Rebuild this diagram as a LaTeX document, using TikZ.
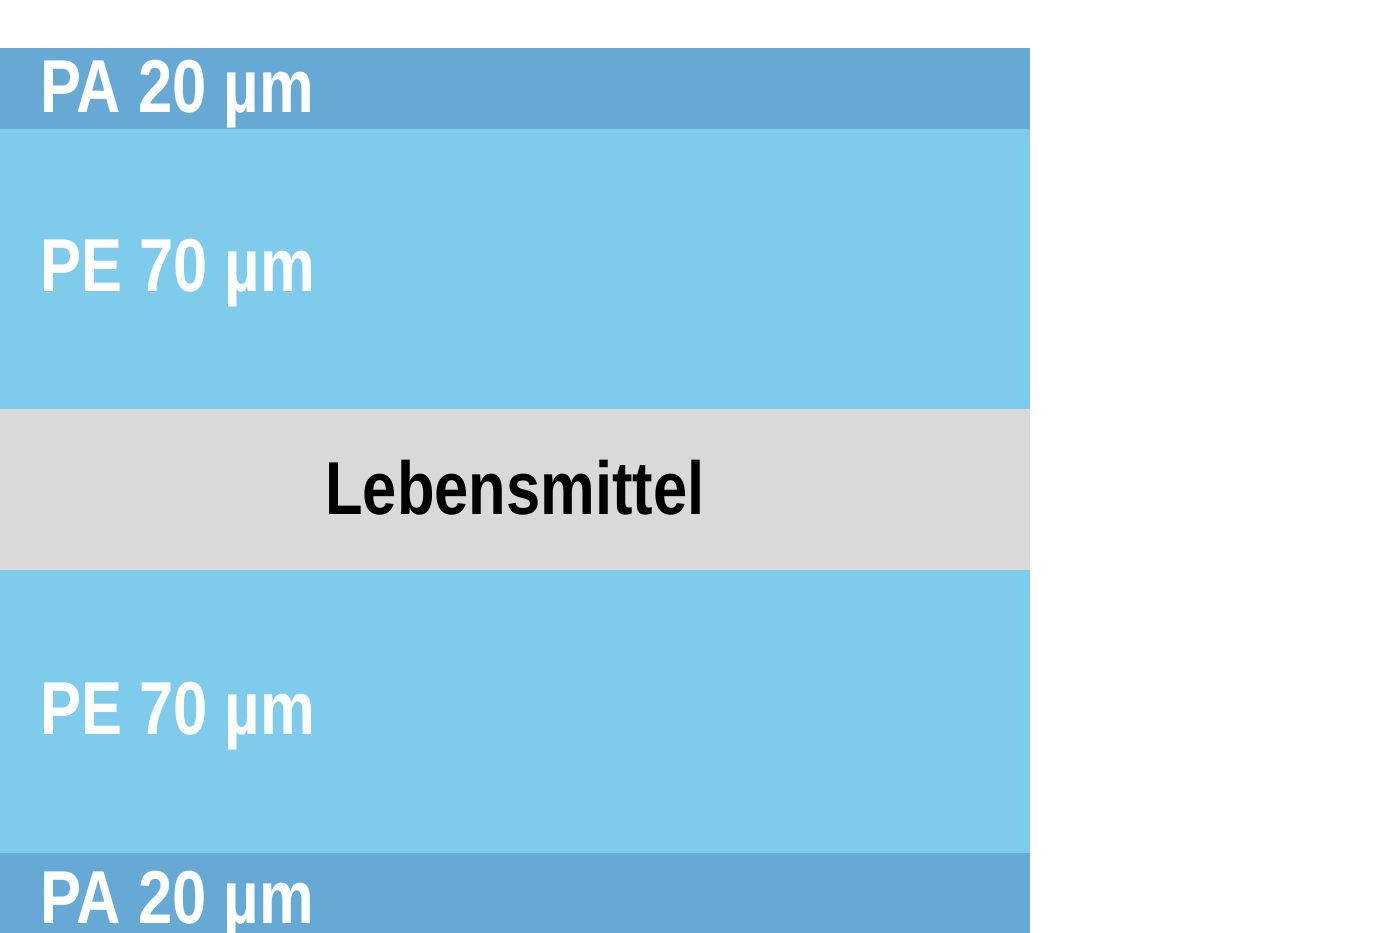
\documentclass[tikz,border=0pt]{standalone}
\usepackage{fontspec}
\newfontfamily\condfont[FakeStretch=0.82]{Liberation Sans}
\definecolor{padark}{RGB}{103,169,213}
\definecolor{pelight}{RGB}{127,203,236}
\definecolor{foodgrey}{RGB}{217,217,217}
\begin{document}
\begin{tikzpicture}[x=1pt, y=-1pt, layer/.style={rectangle,inner sep=0pt,outer sep=0pt,minimum width=1030pt,anchor=north west},layer text/.style={anchor=base west,inner sep=0pt,text=white,font=\condfont\bfseries\fontsize{75}{75}\selectfont}]%
\useasboundingbox (0,0) rectangle (1400,933);
\begin{scope}
\node[layer, fill=padark, minimum height=81pt] (pa top) at (0,48) {};
\node[layer, fill=pelight, minimum height=280pt] (pe top) at (0,129) {};
\node[layer, fill=foodgrey, minimum height=161pt] (food) at (0,409) {};
\node[layer, fill=pelight, minimum height=283pt] (pe bottom) at (0,570) {};
\node[layer, fill=padark, minimum height=80pt] (pa bottom) at (0,853) {};
\end{scope}
\begin{scope}
\node[layer text] (pa top label) at (40,113) {PA 20 µm};
\node[layer text] (pe top label) at (40,292) {PE 70 µm};
\node[layer text, text=black, anchor=base] (food label) at (515,514) {Lebensmittel};
\node[layer text] (pe bottom label) at (40,734) {PE 70 µm};
\node[layer text] (pa bottom label) at (40,923) {PA 20 µm};
\end{scope}
\end{tikzpicture}
\end{document}
